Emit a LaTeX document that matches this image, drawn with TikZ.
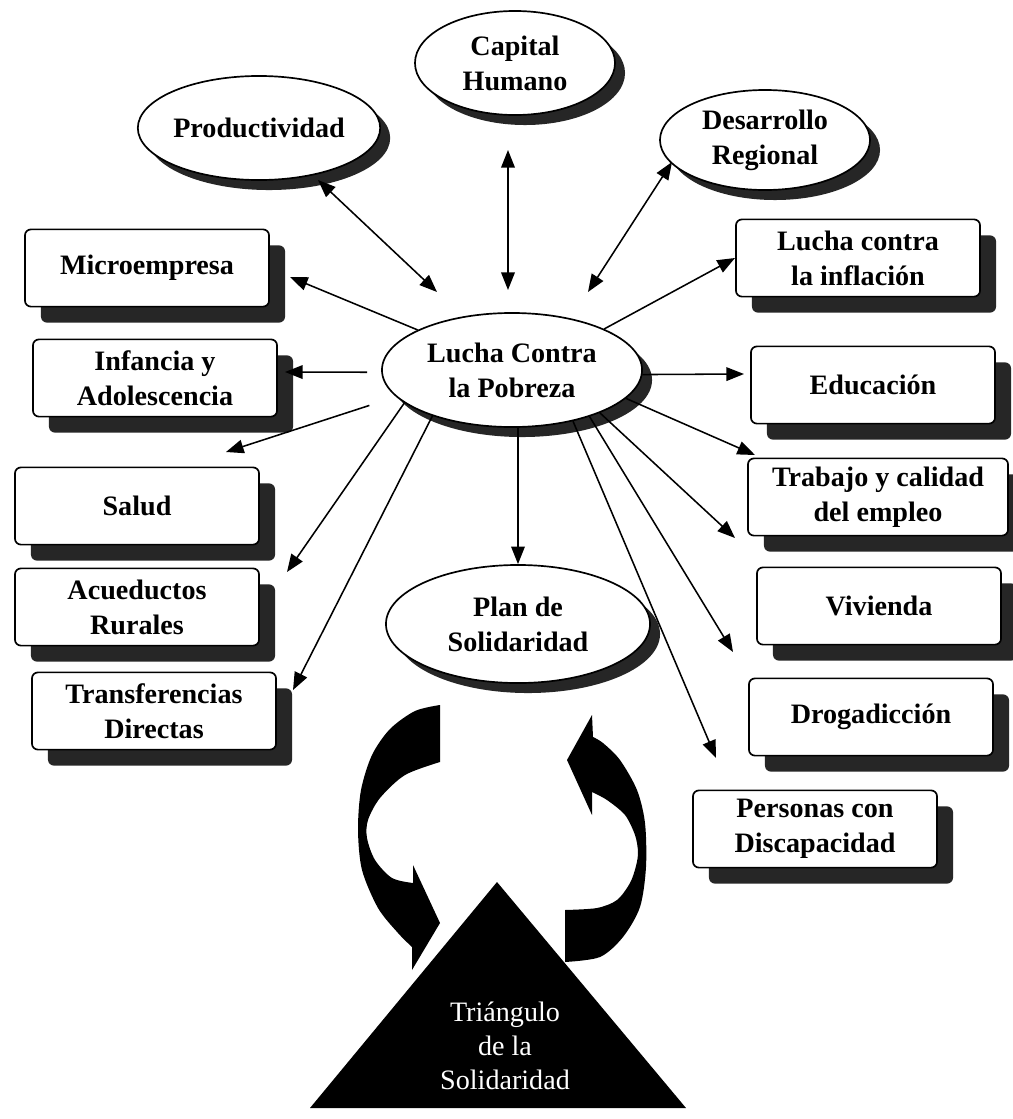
\documentclass[tikz,border=0pt]{standalone}
\usepackage{fontspec}
\setmainfont{Liberation Serif}
\usetikzlibrary{shapes.geometric,shadows,arrows.meta}
\begin{document}
\begin{tikzpicture}[x=0.025cm,y=-0.025cm,
  oval/.style={ellipse, draw, line width=1.2pt, fill=white, inner sep=0pt, align=center,
    font=\bfseries\fontsize{20}{25}\selectfont,
    general shadow={fill=black!85, shadow xshift=0.25cm, shadow yshift=-0.25cm}},
  card/.style={rectangle, rounded corners=0.15cm, draw, line width=1.2pt, fill=white,
    minimum width=6.1cm, minimum height=1.93cm, inner sep=0pt, align=center,
    font=\bfseries\fontsize{20}{25}\selectfont,
    general shadow={fill=black!85, shadow xshift=0.4cm, shadow yshift=-0.4cm}},
  arr/.style={line width=1.1pt, -{Triangle[length=0.44cm,width=0.34cm]}},
  dbl/.style={line width=1.1pt, {Triangle[length=0.44cm,width=0.34cm]}-{Triangle[length=0.44cm,width=0.34cm]}}]

\fill[white] (0,0) rectangle (1013,1119);
\useasboundingbox (0,0) rectangle (1013,1119);

% ellipses
\node[oval, minimum width=5.1cm, minimum height=2.6cm] (prod) at (259,128) {Productividad};
\node[oval, minimum width=5cm, minimum height=2.6cm] (cap) at (515,63) {Capital\\Humano};
\node[oval, minimum width=5.25cm, minimum height=2.5cm] (des) at (765,140) {Desarrollo\\Regional};
\node[oval, minimum width=6.5cm, minimum height=2.85cm] (cen) at (512,370) {Lucha Contra\\la Pobreza};
\node[oval, minimum width=6.6cm, minimum height=2.95cm] (plan) at (518,624) {Plan de\\Solidaridad};

% boxes
\node[card] (micro) at (147,268) {Microempresa};
\node[card] (infan) at (155,378) {Infancia y\\Adolescencia};
\node[card] (salud) at (137,506) {Salud};
\node[card] (acued) at (137,607) {Acueductos\\Rurales};
\node[card] (trans) at (154,711) {Transferencias\\Directas};
\node[card] (lucha) at (858,258) {Lucha contra\\la inflación};
\node[card] (educ) at (873,385) {Educación};
\node[card, minimum width=6.5cm] (trab) at (878,497) {Trabajo y calidad\\del empleo};
\node[card] (viv) at (879,606) {Vivienda};
\node[card] (drog) at (871,717) {Drogadicción};
\node[card] (pers) at (815,829) {Personas con\\Discapacidad};

% arrow tips
\coordinate (tmicro) at (290,277);
\coordinate (tinfan) at (285,372);
\coordinate (tsalud) at (226,452);
\coordinate (tacued) at (287,572);
\coordinate (ttrans) at (293,690);
\coordinate (tlucha) at (735,258);
\coordinate (teduc) at (744,374);
\coordinate (ttrab) at (755,455);
\coordinate (tviv) at (735,538);
\coordinate (tdrog) at (733,652);
\coordinate (tpers) at (716,758);

\draw[arr] (cen.157) -- (tmicro);
\draw[arr, shorten <=0.35cm] (cen.181) -- (tinfan);
\draw[arr, shorten <=0.7cm] (cen.193) -- (tsalud);
\draw[arr] (cen.197) -- (tacued);
\draw[arr] (cen.210) -- (ttrans);
\draw[arr] (cen.south -| plan.north) -- (plan.north);
\draw[arr] (cen.24) -- (tlucha);
\draw[arr] (cen.-2) -- (teduc);
\draw[arr] (cen.-14) -- (ttrab);
\draw[arr] (cen.-26) -- (tviv);
\draw[arr] (cen.-31) -- (tdrog);
\draw[arr] (cen.-40) -- (tpers);

% double arrows
\coordinate (p1) at (318,180); \coordinate (p2) at (437,292);
\coordinate (c1) at (508,150); \coordinate (c2) at (508,290);
\coordinate (d1) at (672,162); \coordinate (d2) at (588,292);
\draw[dbl] (p1) -- (p2);
\draw[dbl] (c1) -- (c2);
\draw[dbl] (d1) -- (d2);

% circular arrows
\fill plot[smooth] coordinates {(440,705) (415,711) (390,729) (372,755) (361,790) (358,830) (362,870) (378,908) (398,933) (412,947)}
  -- (412,970) -- (440,923) -- (413,865) -- (413,883)
  -- plot[smooth] coordinates {(413,883) (392,878) (375,860) (367,838) (368,820) (380,798) (405,775) (440,762)} -- cycle;
\fill plot[smooth] coordinates {(565,962) (600,957) (623,937) (640,907) (646,867) (645,823) (637,790) (620,760) (603,743) (593,737)}
  -- (592,715) -- (567,760) -- (592,815) -- (592,792)
  -- plot[smooth] coordinates {(592,792) (607,800) (625,815) (635,835) (638,852) (636,866) (630,883) (617,900) (597,908) (565,910)} -- cycle;

% triangle
\fill (497,882) -- (686,1108) -- (310,1108) -- cycle;
\node[align=center, text=white, font=\fontsize{20}{24}\selectfont] (tri) at (505,1046) {Triángulo\\de la\\Solidaridad};
\end{tikzpicture}
\end{document}
